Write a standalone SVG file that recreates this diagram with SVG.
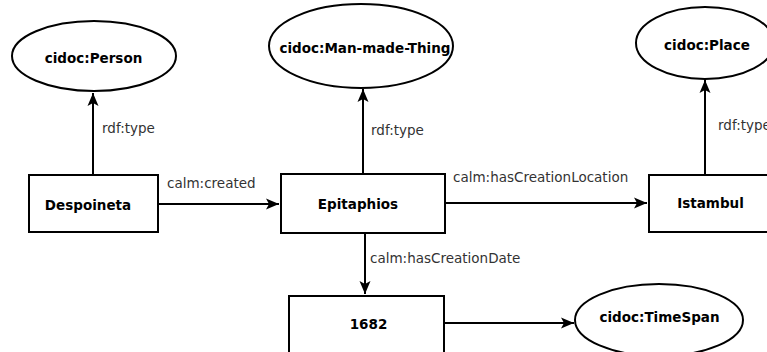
<svg xmlns="http://www.w3.org/2000/svg" width="767" height="352" viewBox="0 0 767 352">
<style>
.node rect, .node ellipse { fill: #ffffff; stroke: #000000; stroke-width: 2; }
.node text { font-family: "DejaVu Sans", sans-serif; font-weight: bold; font-size: 13.5px; fill: #000000; text-anchor: middle; }
.edge line { stroke: #000000; stroke-width: 2; fill: none; marker-end: url(#arrow); }
.edge text { font-family: "DejaVu Sans", sans-serif; font-size: 13.5px; fill: #333333; }
</style>
<defs>
<marker id="arrow" markerUnits="userSpaceOnUse" markerWidth="15" markerHeight="13" refX="14" refY="6.5" orient="auto">
<path d="M1,1 L14,6.5 L1,12 L4,6.5 z" fill="#000000"/>
</marker>
</defs>
<rect width="767" height="352" fill="#ffffff"/>
<g id="edges">
<g class="edge" id="e-despoineta-person"><line x1="93" y1="175" x2="93" y2="93"/><text x="102" y="133">rdf:type</text></g>
<g class="edge" id="e-epitaphios-thing"><line x1="363" y1="174" x2="363" y2="89"/><text x="371" y="135">rdf:type</text></g>
<g class="edge" id="e-istambul-place"><line x1="705" y1="175" x2="705" y2="80"/><text x="718" y="130">rdf:type</text></g>
<g class="edge" id="e-created"><line x1="158" y1="204" x2="279" y2="204"/><text x="167" y="188">calm:created</text></g>
<g class="edge" id="e-location"><line x1="445" y1="203" x2="647" y2="203"/><text x="453" y="182">calm:hasCreationLocation</text></g>
<g class="edge" id="e-date"><line x1="365" y1="233" x2="365" y2="294"/><text x="370" y="263">calm:hasCreationDate</text></g>
<g class="edge" id="e-timespan"><line x1="444" y1="323" x2="574" y2="323"/></g>
</g>
<g class="node" id="n-person"><ellipse cx="94" cy="56" rx="82" ry="35"/><text x="93.5" y="63">cidoc:Person</text></g>
<g class="node" id="n-thing"><ellipse cx="361" cy="46" rx="92" ry="42"/><text x="365" y="53">cidoc:Man-made-Thing</text></g>
<g class="node" id="n-place"><ellipse cx="705" cy="43" rx="69" ry="36"/><text x="707" y="50">cidoc:Place</text></g>
<g class="node" id="n-despoineta"><rect x="29" y="175" width="129" height="57"/><text x="88" y="210">Despoineta</text></g>
<g class="node" id="n-epitaphios"><rect x="281" y="174" width="164" height="59"/><text x="358" y="209">Epitaphios</text></g>
<g class="node" id="n-istambul"><rect x="649" y="175" width="130" height="57"/><text x="710.5" y="208">Istambul</text></g>
<g class="node" id="n-1682"><rect x="289" y="296" width="155" height="70"/><text x="368.5" y="329">1682</text></g>
<g class="node" id="n-timespan"><ellipse cx="659" cy="320" rx="84" ry="36"/><text x="659.5" y="322">cidoc:TimeSpan</text></g>
</svg>
